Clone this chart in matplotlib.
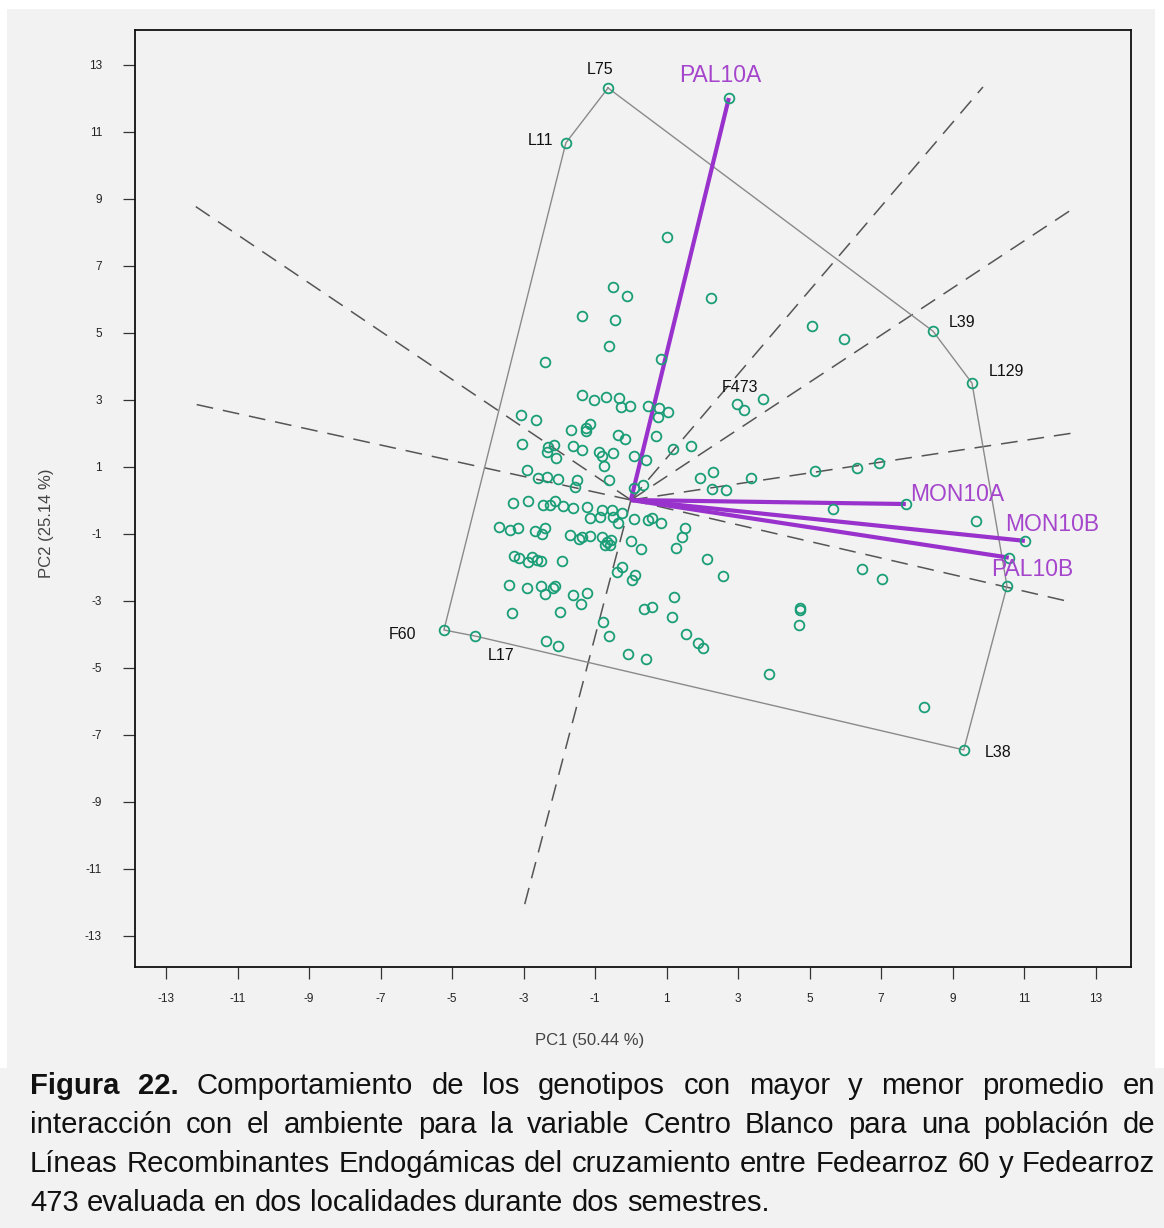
import matplotlib
matplotlib.use("Agg")
import matplotlib.pyplot as plt
from matplotlib.patches import Rectangle
import numpy as np

W, H, DPI = 1164, 1228, 100

# ---------------- data ----------------
pc1 = [1.01, -0.50, -0.11, 2.24, -1.37, -0.45, -0.62, 0.84, -2.41, 5.06,
       5.96, 3.16, 3.69, -1.37, -1.03, -0.70, -0.34, -0.28, -0.03,
       0.48, 0.78, 1.03, 0.76, -3.08, -2.66, -1.68, -1.26, -1.15, -1.26,
       -0.36, -0.17, 0.70, -3.05, 1.17, 1.68, -2.32, -2.15, -2.35, -2.10,
       -1.62, -1.37, -0.90, -0.81, -0.50, -0.76, 0.08, 0.42, -2.91, -2.60,
       -2.35, -2.04, -1.51, -0.62, -1.57, 0.08, 0.34, 1.93, 2.29, 3.36,
       5.15, 6.32, 6.94, 2.27, 2.66, 5.65, 9.65, 2.13, 2.57, 6.46,
       7.02, -0.25, 0.08, 0.48, 0.59, 0.84, 1.51, 1.43, 1.26, 0.00,
       0.28, 0.11, 0.03, -3.30, -2.88, -2.46, -2.27, -2.13, -1.90, -1.62,
       -1.23, -1.15, -0.87, -0.81, -0.53, -0.50, -0.36, -3.69, -3.38, -3.16,
       -2.69, -2.41, -2.49, -1.71, -1.45, -1.37, -1.15, -0.81, -0.67, -0.56,
       -0.73, -0.59, -3.27, -3.13, -2.88, -2.77, -2.63, -2.52, -1.93, -0.39,
       -0.25, -3.41, -2.91, -2.52, -2.41, -2.18, -2.13, -1.62, -1.23, -1.40,
       -3.33, -1.99, 1.20, 0.36, 0.59, 1.15, -0.78, -0.62, 1.54, 1.87,
       2.01, -2.38, -2.04, -0.08, 0.42, 3.86, 4.73, 4.73, 4.70, 8.20]
pc2 = [7.85, 6.36, 6.09, 6.03, 5.49, 5.37, 4.60, 4.21, 4.12, 5.19,
       4.81, 2.69, 3.01, 3.13, 2.99, 3.07, 3.04, 2.78, 2.81,
       2.81, 2.75, 2.63, 2.48, 2.54, 2.39, 2.09, 2.15, 2.27, 2.06,
       1.94, 1.82, 1.91, 1.67, 1.52, 1.61, 1.58, 1.64, 1.43, 1.25,
       1.61, 1.49, 1.43, 1.31, 1.40, 1.01, 1.31, 1.19, 0.90, 0.66,
       0.69, 0.63, 0.60, 0.60, 0.39, 0.36, 0.45, 0.66, 0.84, 0.66,
       0.87, 0.96, 1.10, 0.33, 0.30, -0.27, -0.63, -1.76, -2.27, -2.06,
       -2.36, -0.39, -0.57, -0.60, -0.54, -0.69, -0.84, -1.10, -1.43, -1.22,
       -1.46, -2.24, -2.39, -0.09, -0.03, -0.15, -0.15, -0.03, -0.18, -0.24,
       -0.21, -0.54, -0.51, -0.30, -0.30, -0.51, -0.69, -0.81, -0.90, -0.84,
       -0.93, -0.84, -1.01, -1.04, -1.16, -1.10, -1.07, -1.10, -1.25, -1.19,
       -1.34, -1.34, -1.67, -1.73, -1.85, -1.70, -1.79, -1.82, -1.82, -2.15,
       -2.00, -2.54, -2.63, -2.57, -2.81, -2.63, -2.57, -2.84, -2.78, -3.10,
       -3.37, -3.34, -2.90, -3.25, -3.19, -3.49, -3.64, -4.06, -4.00, -4.27,
       -4.42, -4.21, -4.36, -4.60, -4.75, -5.19, -3.22, -3.28, -3.73, -6.18]

# polygon (hull) genotypes, in drawing order
hull_names = ["L75", "L39", "L129", "", "L38", "L17", "F60", "L11"]
hull_pc1 = [-0.64, 8.45, 9.54, 10.52, 9.31, -4.36, -5.23, -1.82]
hull_pc2 = [12.30, 5.04, 3.49, -2.57, -7.46, -4.06, -3.88, 10.66]

parent_names = ["F473"]
parent_pc1 = [2.97]
parent_pc2 = [2.87]

env_names = ["PAL10A", "MON10A", "MON10B", "PAL10B"]
env_pc1 = [2.74, 7.69, 11.02, 10.57]
env_pc2 = [12.00, -0.12, -1.22, -1.72]

tick_vals = list(range(-13, 14, 2))
xlabel_txt = "PC1 (50.44 %)"
ylabel_txt = "PC2 (25.14 %)"

caption = [
    [("Figura", True), ("22.", True), ("Comportamiento", False), ("de", False),
     ("los", False), ("genotipos", False), ("con", False), ("mayor", False),
     ("y", False), ("menor", False), ("promedio", False), ("en", False)],
    [(w, False) for w in "interacción con el ambiente para la variable Centro Blanco para una población de".split()],
    [(w, False) for w in "Líneas Recombinantes Endogámicas del cruzamiento entre Fedearroz 60 y Fedearroz".split()],
    [(w, False) for w in "473 evaluada en dos localidades durante dos semestres.".split()],
]

# ---------------- styling ----------------
BG = "#f2f2f2"
GREEN = "#1b9e77"
PURPLE = "#9932CC"
PURPLE_TXT = "#a445cc"
FONT = ["Liberation Sans", "DejaVu Sans"]
plt.rcParams["font.family"] = FONT

fig = plt.figure(figsize=(W / DPI, H / DPI), dpi=DPI, facecolor="white")
fig.patches.append(Rectangle((7 / W, 1 - 1068 / H), (1155 - 7) / W, (1068 - 9) / H,
                             transform=fig.transFigure, facecolor=BG,
                             edgecolor="none", zorder=-10))
fig.patches.append(Rectangle((0, 0), 1, 1 - 1068 / H, transform=fig.transFigure,
                             facecolor=BG, edgecolor="none", zorder=-10))

ax = fig.add_axes([134.7 / W, 1 - 967 / H, (1130.7 - 134.7) / W, (967 - 30) / H])
ax.set_facecolor(BG)
ax.set_xlim(-13.88, 13.98)
ax.set_ylim(-13.94, 14.03)

# rays perpendicular to polygon sides
ray_idx = [i for i, n in enumerate(hull_names) if n != "L17"]
verts = np.array([[hull_pc1[i], hull_pc2[i]] for i in ray_idx])
for k in range(len(verts)):
    p1 = verts[k]
    p2 = verts[(k + 1) % len(verts)]
    d = p2 - p1
    t = -np.dot(p1, d) / np.dot(d, d)
    foot = p1 + t * d
    end = foot * (12.33 / np.max(np.abs(foot)))
    ax.plot([0, end[0]], [0, end[1]], color="#555555", lw=1.1,
            ls=(0, (11, 6.5)), zorder=2)

# polygon
hx = hull_pc1 + [hull_pc1[0]]
hy = hull_pc2 + [hull_pc2[0]]
ax.plot(hx, hy, color="#8a8a8a", lw=1.0, zorder=2)

# environment vectors
for x, y in zip(env_pc1, env_pc2):
    ax.plot([0, x], [0, y], color=PURPLE, lw=3.0, solid_capstyle="butt", zorder=3)

# genotype markers
allx = pc1 + hull_pc1 + parent_pc1 + env_pc1
ally = pc2 + hull_pc2 + parent_pc2 + env_pc2
ax.plot(allx, ally, "o", mfc="none", mec=GREEN, ms=7, mew=1.3, zorder=4)

# genotype labels
lab_off = {"L75": (-6, 13), "L11": (-18, 1.5), "L39": (21, 6.5), "L129": (24.5, 8.6),
           "L38": (24.5, -2), "F60": (-29.5, -3), "L17": (18.7, -13.7), "F473": (2, 11.5)}
for n, x, y in zip(hull_names + parent_names, hull_pc1 + parent_pc1,
                   hull_pc2 + parent_pc2):
    if n == "":
        continue
    ax.annotate(n, (x, y), xytext=lab_off[n], textcoords="offset points",
                ha="center", va="center", fontsize=11.5, color="#111111", zorder=5)

env_off = {"PAL10A": (-6.5, 16), "MON10A": (37, 7), "MON10B": (20, 11.5), "PAL10B": (17, -8.6)}
for n, x, y in zip(env_names, env_pc1, env_pc2):
    ax.annotate(n, (x, y), xytext=env_off[n], textcoords="offset points",
                ha="center", va="center", fontsize=16.5, color=PURPLE_TXT, zorder=5)

ax.set_xticks(tick_vals)
ax.set_yticks(tick_vals)
ax.set_xticklabels([str(v) for v in tick_vals])
ax.set_yticklabels([str(v) for v in tick_vals])
ax.tick_params(axis="both", direction="out", length=8.6, width=0.9,
               color="#333333", labelsize=8.5, labelcolor="#222222")
ax.tick_params(axis="x", pad=10)
ax.tick_params(axis="y", pad=15)
for s in ax.spines.values():
    s.set_linewidth(1.3)
    s.set_color("#111111")

fig.text(590 / W, 1 - 1041 / H, xlabel_txt, ha="center", va="center",
         fontsize=12, color="#444444")
fig.text(47 / W, 1 - 523 / H, ylabel_txt, ha="center", va="center",
         rotation=90, fontsize=12, color="#444444")

# ---------------- caption (justified) ----------------
CAP_FS = 21.1
renderer = fig.canvas.get_renderer()
x_left, x_right = 30, 1155
baselines = [1094, 1133, 1172, 1211]
space_px = 0.278 * CAP_FS * DPI / 72
for li, (words, yb) in enumerate(zip(caption, baselines)):
    texts, widths = [], []
    for w, bold in words:
        t = fig.text(0, 1 - yb / H, w, fontsize=CAP_FS, ha="left", va="baseline",
                     fontweight="bold" if bold else "normal", color="#111111")
        texts.append(t)
        widths.append(t.get_window_extent(renderer).width)
    if li < len(caption) - 1:
        gap = (x_right - x_left - sum(widths)) / (len(words) - 1)
    else:
        gap = space_px
    xc = x_left
    for t, wd in zip(texts, widths):
        t.set_x(xc / W)
        xc += wd + gap

fig.savefig("out.png", dpi=DPI, facecolor=fig.get_facecolor())
